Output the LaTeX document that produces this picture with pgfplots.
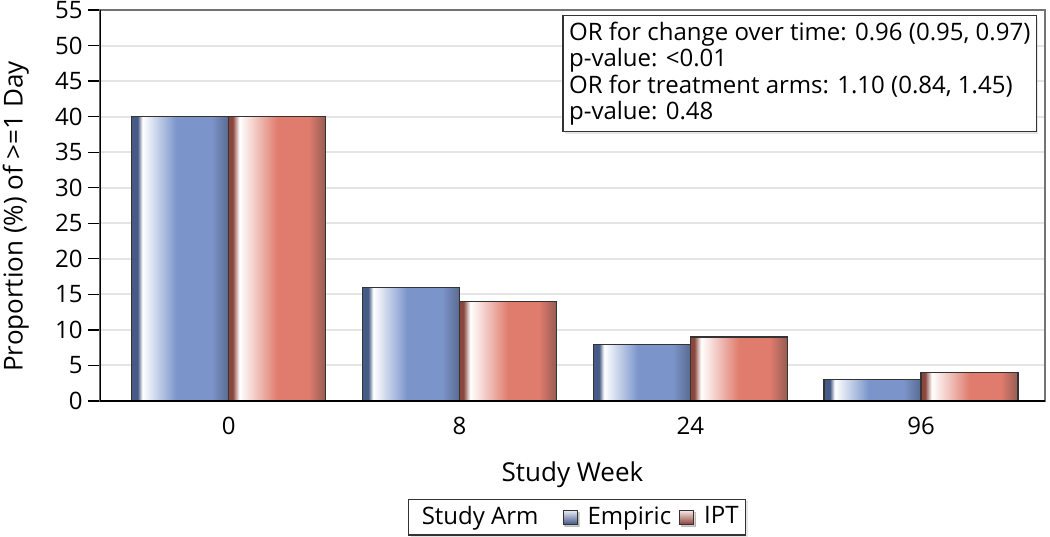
\documentclass[border=0pt]{standalone}
\usepackage{fontspec}
\setmainfont{Open Sans}
\usepackage{pgfplots}
\pgfplotsset{compat=1.18}
\usetikzlibrary{shadows}

\definecolor{empblue}{RGB}{123,149,203}
\definecolor{empedge}{RGB}{70,90,134}
\definecolor{empedgeR}{RGB}{90,106,144}
\definecolor{iptred}{RGB}{224,124,110}
\definecolor{iptedge}{RGB}{138,70,60}
\definecolor{iptedgeR}{RGB}{150,92,82}

% central 50bp of the shading covers the bar
\pgfdeclarehorizontalshading{empshade}{100bp}{color(0bp)=(empedge); color(25bp)=(empedge); color(28bp)=(empedge); color(30.5bp)=(white); color(48bp)=(empblue); color(66bp)=(empblue); color(75bp)=(empedgeR); color(100bp)=(empedgeR)}
\pgfdeclarehorizontalshading{iptshade}{100bp}{color(0bp)=(iptedge); color(25bp)=(iptedge); color(27bp)=(iptedge); color(30.5bp)=(white); color(50bp)=(iptred); color(66bp)=(iptred); color(75bp)=(iptedgeR); color(100bp)=(iptedgeR)}

\pgfplotsset{
  emp/.style={ybar, bar width=48.5pt, bar shift=-24.25pt, draw=black!80, line width=0.6pt, shading=empshade,
    legend image code/.code={\draw[black!80, line width=0.5pt, top color=empblue!15, bottom color=empedge] (0pt,-3.5pt) rectangle (7pt,3.5pt);}},
  ipt/.style={ybar, bar width=48.5pt, bar shift=24.25pt, draw=black!80, line width=0.6pt, shading=iptshade,
    legend image code/.code={\draw[black!80, line width=0.5pt, top color=iptred!15, bottom color=iptedge] (0pt,-3.5pt) rectangle (7pt,3.5pt);}},
}

\begin{document}
\fontsize{12}{14}\selectfont
\begin{tikzpicture}
\begin{axis}[
  scale only axis, width=472.5pt, height=195.5pt,
  xmin=-0.558, xmax=3.537, ymin=0, ymax=55,
  xtick={0,1,2,3}, xticklabels={0,8,24,96},
  ytick={0,5,...,55},
  /pgf/number format/assume math mode=true,
  axis line style={black!55, line width=0.7pt},
  ytick pos=left, tick align=outside,
  major tick length=6pt,
  ytick style={black, line width=0.6pt},
  xtick style={draw=none},
  xticklabel style={yshift=2pt},
  yticklabel style={xshift=1.5pt},
  ymajorgrids, grid style={black!10, line width=1pt},
  xlabel={Study Week}, ylabel={Proportion (\%) of >=1 Day},
  label style={font=\fontsize{13}{15}\selectfont},
  xlabel style={at={(axis description cs:0.5,-0.188)}, anchor=center},
  ylabel style={at={(axis description cs:-0.089,0.472)}, anchor=center},
  legend columns=-1,
  legend style={at={(0.505,-0.297)}, anchor=center, draw=black!80, line width=0.6pt,
    inner sep=1.5pt,
    /tikz/every odd column/.append style={column sep=3pt},
    /tikz/every even column/.append style={column sep=2pt},
    drop shadow={opacity=0.2, shadow xshift=1pt, shadow yshift=-1pt}},
]
\addlegendimage{empty legend}
\addlegendentry{\hbox{Study Arm\kern 8pt}}
\addplot[emp] coordinates {(0,40)};
\addlegendentry{Empiric}
\addplot[ipt] coordinates {(0,40)};
\addlegendentry{IPT}
\addplot[emp, forget plot] coordinates {(1,16)};
\addplot[ipt, forget plot] coordinates {(1,14)};
\addplot[emp, forget plot] coordinates {(2,8)};
\addplot[ipt, forget plot] coordinates {(2,9)};
\addplot[emp, forget plot] coordinates {(3,3)};
\addplot[ipt, forget plot] coordinates {(3,4)};
\draw[black, line width=1.2pt] (rel axis cs:0,1) -- (rel axis cs:0,0) -- (rel axis cs:1,0);
\node[draw=black!80, line width=0.6pt, fill=white, anchor=north east, align=left, inner sep=3pt,
  font=\fontsize{12}{13.3}\selectfont,
  drop shadow={opacity=0.2, shadow xshift=1pt, shadow yshift=-1pt}]
  at (rel axis cs:0.9915,0.987)
  {OR for change over time: 0.96 (0.95, 0.97)\\p-value: <0.01\\OR for treatment arms: 1.10 (0.84, 1.45)\\p-value: 0.48};
\end{axis}
\pgfresetboundingbox
\path ([shift={(-50pt,-67.5pt)}]current axis.south west) rectangle ([shift={(2.5pt,5pt)}]current axis.north east);
\end{tikzpicture}
\end{document}
